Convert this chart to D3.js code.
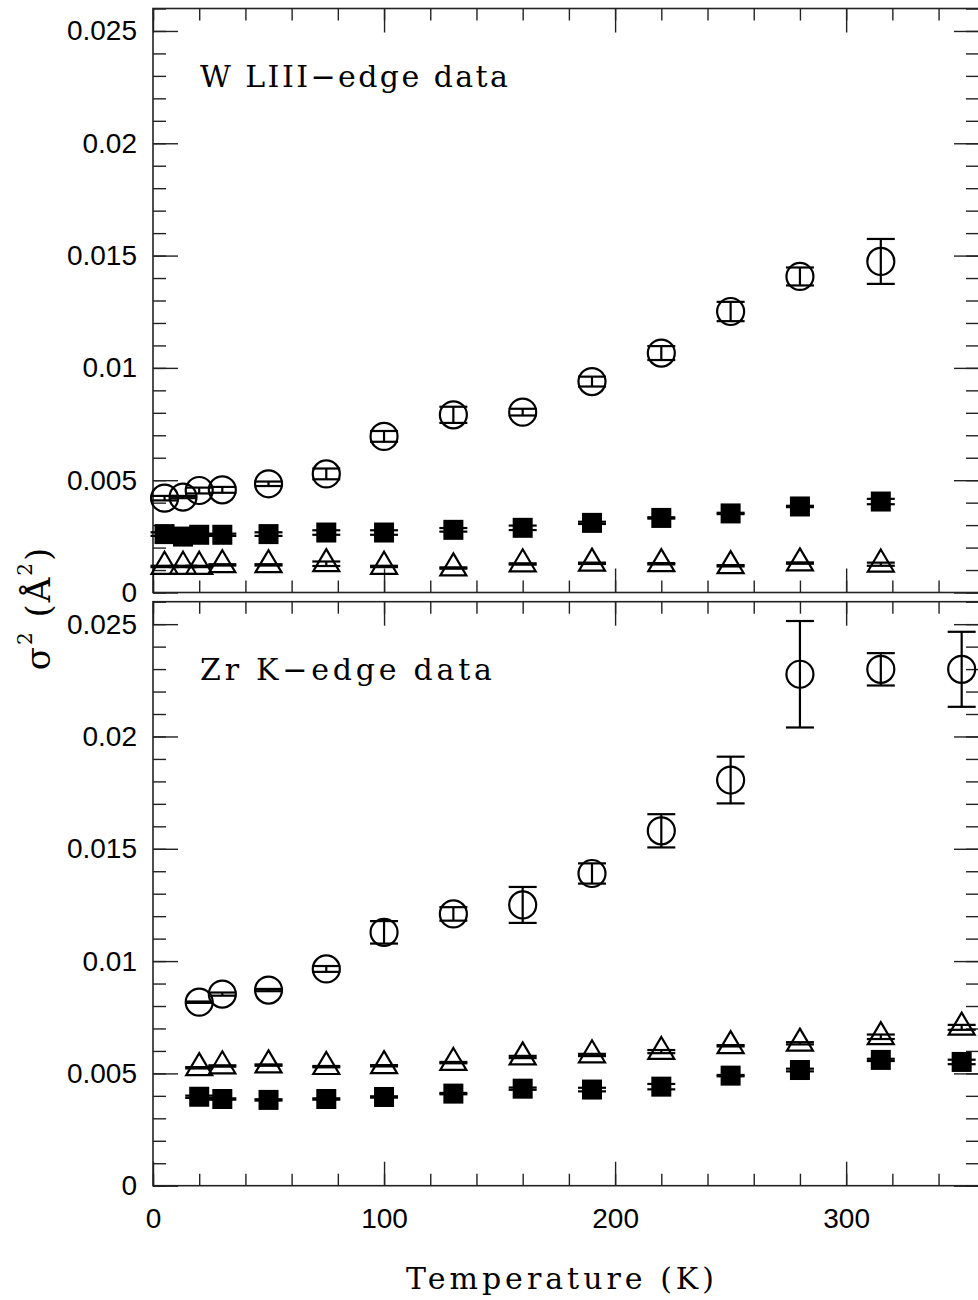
<!DOCTYPE html>
<html><head><meta charset="utf-8">
<script src="https://cdn.jsdelivr.net/npm/d3@7"></script>
<style>body{margin:0;background:#fff}</style>
</head><body>
<svg id="chart" width="978" height="1300"></svg>
<script>
// ---- data ----
const wTemps = [5, 13, 20, 30, 50, 75, 100, 130, 160, 190, 220, 250, 280, 315];
const wCircle = [0.00420, 0.00425, 0.00454, 0.00457, 0.00484, 0.00528, 0.00695, 0.00791, 0.00803, 0.00939, 0.01066, 0.01251, 0.01407, 0.01474];
const wCircleErr = [0.00010, 0.00005, 0.00013, 0.00013, 0.00010, 0.00024, 0.00024, 0.00036, 0.00015, 0.00022, 0.00031, 0.00043, 0.00040, 0.00100];
const wSquare = [0.00260, 0.00249, 0.00257, 0.00257, 0.00260, 0.00267, 0.00267, 0.00279, 0.00288, 0.00310, 0.00332, 0.00352, 0.00383, 0.00405];
const wSquareErr = [0.00008, 0.00003, 0.00003, 0.00005, 0.00008, 0.00010, 0.00010, 0.00008, 0.00010, 0.00005, 0.00003, 0.00003, 0.00003, 0.00012];
const wTriangle = [0.00116, 0.00116, 0.00116, 0.00123, 0.00123, 0.00128, 0.00116, 0.00109, 0.00127, 0.00130, 0.00128, 0.00119, 0.00131, 0.00126];
const wTriangleErr = [0.00003, 0.00003, 0.00003, 0.00003, 0.00003, 0.00010, 0.00003, 0.00003, 0.00003, 0.00003, 0.00003, 0.00003, 0.00003, 0.00007];

const zrTemps = [20, 30, 50, 75, 100, 130, 160, 190, 220, 250, 280, 315, 350];
const zrCircle = [0.00817, 0.00853, 0.00871, 0.00965, 0.01128, 0.01210, 0.01250, 0.01390, 0.01580, 0.01806, 0.02277, 0.02299, 0.02299];
const zrCircleErr = [0.00003, 0.00007, 0.00005, 0.00013, 0.00050, 0.00030, 0.00080, 0.00045, 0.00074, 0.00104, 0.00237, 0.00072, 0.00167];
const zrTriangle = [0.00525, 0.00533, 0.00537, 0.00530, 0.00534, 0.00548, 0.00573, 0.00582, 0.00597, 0.00623, 0.00634, 0.00663, 0.00705];
const zrTriangleErr = [0.00003, 0.00003, 0.00003, 0.00003, 0.00003, 0.00003, 0.00005, 0.00005, 0.00007, 0.00003, 0.00005, 0.00010, 0.00011];
const zrSquare = [0.00396, 0.00386, 0.00382, 0.00386, 0.00395, 0.00410, 0.00432, 0.00428, 0.00441, 0.00490, 0.00515, 0.00560, 0.00551];
const zrSquareErr = [0.00005, 0.00003, 0.00003, 0.00003, 0.00003, 0.00003, 0.00005, 0.00008, 0.00012, 0.00003, 0.00006, 0.00005, 0.00010];

const xMajorTicks = [0, 100, 200, 300];
const xTickLabels = ["0", "100", "200", "300"];
const yMajorTicks = [0, 0.005, 0.01, 0.015, 0.02, 0.025];
const yTickLabels = ["0", "0.005", "0.01", "0.015", "0.02", "0.025"];
const panelLabels = ["W LIII\u2212edge data", "Zr K\u2212edge data"];
const xTitle = "Temperature (K)";

// ---- layout ----
const svg = d3.select("#chart");
const left = 153, right = 979;
const panelH = 584;
const panelTops = [8.5, 601.7];
const x = d3.scaleLinear().domain([0, 357.5]).range([left, right]);
const xMinor = d3.range(0, 360, 20);
const yMinor = d3.range(0, 0.0261, 0.001);
const serif = "DejaVu Serif, Liberation Serif, serif";

const panels = [
  {temps: wTemps, series: [
    {type: "circle", v: wCircle, e: wCircleErr},
    {type: "square", v: wSquare, e: wSquareErr},
    {type: "triangle", v: wTriangle, e: wTriangleErr}]},
  {temps: zrTemps, series: [
    {type: "circle", v: zrCircle, e: zrCircleErr},
    {type: "triangle", v: zrTriangle, e: zrTriangleErr},
    {type: "square", v: zrSquare, e: zrSquareErr}]}
];

const tickColor = "#222";
function styleAxis(g) {
  g.select(".domain").remove();
  g.selectAll(".tick line").attr("stroke", tickColor).attr("stroke-width", 1.4);
  g.selectAll(".tick text").attr("font-family", "Liberation Sans, Arial, sans-serif")
    .attr("font-size", 28).attr("fill", "#000");
}

panels.forEach((p, i) => {
  const top = panelTops[i], bottom = top + panelH;
  const y = d3.scaleLinear().domain([0, 0.026]).range([bottom, top]);
  const g = svg.append("g");

  // minor ticks
  g.append("g").attr("transform", `translate(${left},0)`)
    .call(d3.axisLeft(y).tickValues(yMinor).tickSize(-13).tickFormat("")).call(styleAxis);
  g.append("g").attr("transform", `translate(${right},0)`)
    .call(d3.axisRight(y).tickValues(yMinor).tickSize(-13).tickFormat("")).call(styleAxis);
  g.append("g").attr("transform", `translate(0,${top})`)
    .call(d3.axisTop(x).tickValues(xMinor).tickSize(-12).tickFormat("")).call(styleAxis);
  g.append("g").attr("transform", `translate(0,${bottom})`)
    .call(d3.axisBottom(x).tickValues(xMinor).tickSize(-12).tickFormat("")).call(styleAxis);
  // major ticks
  g.append("g").attr("transform", `translate(${left},0)`)
    .call(d3.axisLeft(y).tickValues(yMajorTicks).tickSize(-25).tickPadding(16)
      .tickFormat((d, k) => yTickLabels[k])).call(styleAxis);
  g.append("g").attr("transform", `translate(${right},0)`)
    .call(d3.axisRight(y).tickValues(yMajorTicks).tickSize(-25).tickFormat("")).call(styleAxis);
  g.append("g").attr("transform", `translate(0,${top})`)
    .call(d3.axisTop(x).tickValues(xMajorTicks).tickSize(-24).tickFormat("")).call(styleAxis);
  g.append("g").attr("transform", `translate(0,${bottom})`)
    .call(d3.axisBottom(x).tickValues(xMajorTicks).tickSize(-24).tickPadding(22)
      .tickFormat((d, k) => i === 1 ? xTickLabels[k] : "")).call(styleAxis);

  // frame
  g.append("rect").attr("x", left).attr("y", top).attr("width", right - left).attr("height", panelH)
    .attr("fill", "none").attr("stroke", tickColor).attr("stroke-width", 1.6);

  // panel label
  g.append("text").attr("x", 200).attr("y", top + 78.5)
    .attr("font-family", serif).attr("font-size", 30)
    .attr("textLength", i === 0 ? 308 : 292).attr("lengthAdjust", "spacing")
    .text(panelLabels[i]);

  // data
  p.series.forEach(s => {
    const pts = p.temps.map((t, k) => ({t, v: s.v[k], e: s.e[k]}));
    const sg = g.append("g").attr("stroke", "#000").attr("stroke-width", 2.2);
    const cap = 14;
    sg.selectAll("line.v").data(pts).join("line")
      .attr("x1", d => x(d.t)).attr("x2", d => x(d.t))
      .attr("y1", d => y(d.v - d.e)).attr("y2", d => y(d.v + d.e));
    sg.selectAll("line.lo").data(pts).join("line").attr("class", "lo")
      .attr("x1", d => x(d.t) - cap).attr("x2", d => x(d.t) + cap)
      .attr("y1", d => y(d.v - d.e)).attr("y2", d => y(d.v - d.e));
    sg.selectAll("line.hi").data(pts).join("line").attr("class", "hi")
      .attr("x1", d => x(d.t) - cap).attr("x2", d => x(d.t) + cap)
      .attr("y1", d => y(d.v + d.e)).attr("y2", d => y(d.v + d.e));
    if (s.type === "circle") {
      sg.selectAll("circle").data(pts).join("circle")
        .attr("cx", d => x(d.t)).attr("cy", d => y(d.v)).attr("r", 13.5).attr("fill", "none");
    } else if (s.type === "square") {
      sg.selectAll("rect").data(pts).join("rect")
        .attr("x", d => x(d.t) - 10).attr("y", d => y(d.v) - 10)
        .attr("width", 20).attr("height", 20).attr("fill", "#000").attr("stroke", "none");
    } else {
      const h = 22, w = 26;
      sg.selectAll("path.tri").data(pts).join("path").attr("class", "tri")
        .attr("fill", "none")
        .attr("d", d => {
          const cx = x(d.t), cy = y(d.v);
          return `M${cx},${cy - 2 * h / 3}L${cx + w / 2},${cy + h / 3}L${cx - w / 2},${cy + h / 3}Z`;
        });
    }
  });
});

// axis titles
svg.append("text").attr("x", 560).attr("y", 1289).attr("text-anchor", "middle")
  .attr("font-family", serif).attr("font-size", 30)
  .attr("textLength", 308).attr("lengthAdjust", "spacing").text(xTitle);

const yt = svg.append("text").attr("transform", "translate(50,608) rotate(-90)")
  .attr("text-anchor", "middle").attr("font-family", serif)
  .attr("font-size", 34).attr("letter-spacing", 2);
yt.append("tspan").text("\u03c3");
yt.append("tspan").attr("dy", -18).attr("font-size", 20).text("2");
yt.append("tspan").attr("dy", 18).text(" (\u00c5");
yt.append("tspan").attr("dy", -18).attr("font-size", 20).text("2");
yt.append("tspan").attr("dy", 18).text(")");
</script>
</body></html>
